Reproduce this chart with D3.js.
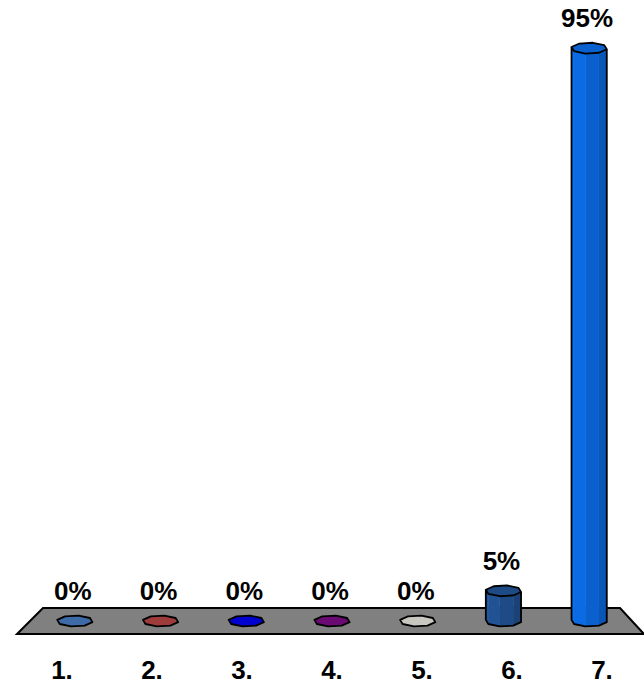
<!DOCTYPE html>
<html>
<head>
<meta charset="utf-8">
<script src="https://cdn.jsdelivr.net/npm/d3@7"></script>
<style>
  body { margin: 0; background: #fff; }
  text { font-family: "Liberation Sans", Arial, sans-serif; font-weight: bold; }
</style>
</head>
<body>
<div id="chart"></div>
<script>
// data
var categories = ["1.", "2.", "3.", "4.", "5.", "6.", "7."];
var values = [0, 0, 0, 0, 0, 5, 95];
var valueLabels = ["0%", "0%", "0%", "0%", "0%", "5%", "95%"];

var palette = ["#3e6aa8", "#9e3c3c", "#0000d0", "#6a0a72", "#c8c8c0", "#1f4d8a", "#0a64d4"];

function drawChart() {
    var width = 644, height = 682;
    var svg = d3.select("#chart").append("svg").attr("width", width).attr("height", height);

    var baseY = 621, rx = 18, ry = 5.5;

    var x = d3.scaleBand().domain(categories).range([32, 632]);
    var xLabel = d3.scaleBand().domain(categories).range([17, 647]);
    var y = d3.scaleLinear().domain([0, 100]).range([baseY, 18]);
    var color = d3.scaleOrdinal().domain(categories).range(palette);

    // floor
    svg.append("path")
        .attr("d", "M43,608 L620,608 L644,634 L17,634 Z")
        .attr("fill", "#808080")
        .attr("stroke", "#000")
        .attr("stroke-width", 2);

    var angles = d3.range(8).map(function(k) { return (k * 45 + 12) * Math.PI / 180; });
    function ring(cx, cy) {
        return angles.map(function(a) { return [cx + rx * Math.cos(a), cy + ry * Math.sin(a)]; });
    }

    var bars = svg.selectAll(".bar").data(categories).enter().append("g").classed("bar", 1);

    bars.each(function(d, i) {
        var g = d3.select(this);
        var cx = x(d) + x.bandwidth() / 2;
        var topY = y(values[i]);
        var c = d3.color(color(d));
        var base = ring(cx, baseY), top = ring(cx, topY);

        if (baseY - topY > 0.5) {
            // front facets
            for (var k = 0; k < 8; k++) {
                var k1 = (k + 1) % 8;
                var mid = (angles[k] + angles[k1]) / 2 + (k1 === 0 ? Math.PI : 0);
                if (Math.sin(mid) <= 0) continue;
                var f = -Math.cos(mid);
                var fc = f > 0 ? c.brighter(0.35 * f) : c.darker(0.5 * -f);
                g.append("path")
                    .attr("d", "M" + top[k] + "L" + top[k1] + "L" + base[k1] + "L" + base[k] + "Z")
                    .attr("fill", fc)
                    .attr("stroke", fc)
                    .attr("stroke-width", 0.6);
            }
            // outline of body
            var left = d3.minIndex(base, function(p) { return p[0]; });
            var right = d3.maxIndex(base, function(p) { return p[0]; });
            var front = [];
            for (var j = right; ; j = (j + 1) % 8) { front.push(j); if (j === left) break; }
            var pathD = "M" + top[right];
            front.forEach(function(j) { pathD += "L" + top[j]; });
            front.slice().reverse().forEach(function(j) { pathD += "L" + base[j]; });
            pathD += "Z";
            g.append("path")
                .attr("d", "M" + top[left] + "L" + base[left] + front.slice().reverse().map(function(j) { return "L" + base[j]; }).join("") + "L" + top[right])
                .attr("fill", "none")
                .attr("stroke", "#000")
                .attr("stroke-width", 1.8)
                .attr("stroke-linejoin", "round");
        }

        // top face
        g.append("path")
            .attr("d", "M" + top.join("L") + "Z")
            .attr("fill", baseY - topY > 0.5 ? c.darker(0.1) : c)
            .attr("stroke", "#000")
            .attr("stroke-width", 1.8)
            .attr("stroke-linejoin", "round");

        // value label
        g.append("text")
            .attr("x", cx - 2)
            .attr("y", topY - 21)
            .attr("text-anchor", "middle")
            .attr("font-size", 26)
            .attr("fill", "#000")
            .text(valueLabels[i]);
    });

    // category labels
    svg.selectAll(".cat").data(categories).enter().append("text")
        .classed("cat", 1)
        .attr("x", function(d) { return xLabel(d) + xLabel.bandwidth() / 2; })
        .attr("y", 679)
        .attr("text-anchor", "middle")
        .attr("font-size", 26)
        .attr("fill", "#000")
        .text(function(d) { return d; });
}
drawChart();
</script>
</body>
</html>
